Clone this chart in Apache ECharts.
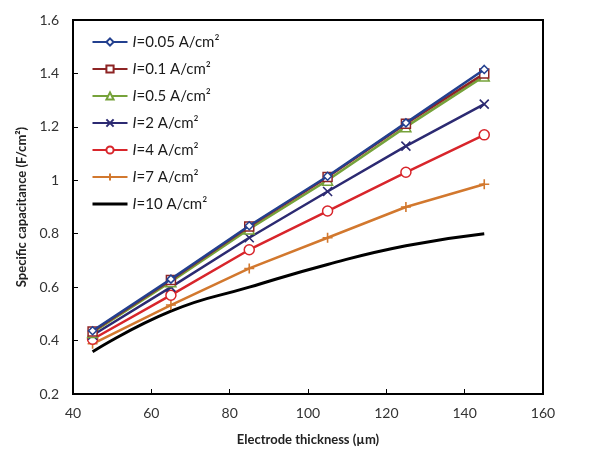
<!DOCTYPE html>
<html>
<head>
<meta charset="utf-8">
<script src="https://cdn.jsdelivr.net/npm/echarts@6/dist/echarts.min.js"></script>
<style>html,body{margin:0;padding:0;background:#fff}#c{width:595px;height:451px}</style>
</head>
<body>
<div id="c"></div>
<script>
var thickness = [45, 65, 85, 105, 125, 145];
var xTicks = [40, 60, 80, 100, 120, 140, 160];
var yTicks = [0.2, 0.4, 0.6, 0.8, 1, 1.2, 1.4, 1.6];
var currents = ['0.05', '0.1', '0.5', '2', '4', '7', '10'];
var s005 = [0.437, 0.630, 0.830, 1.015, 1.215, 1.415];
var s01  = [0.434, 0.627, 0.827, 1.012, 1.212, 1.400];
var s05  = [0.430, 0.620, 0.818, 1.000, 1.200, 1.390];
var s2   = [0.420, 0.600, 0.785, 0.958, 1.128, 1.285];
var s4   = [0.405, 0.570, 0.740, 0.885, 1.030, 1.170];
var s7   = [0.388, 0.533, 0.670, 0.785, 0.900, 0.985];
var s10  = [0.358, 0.510, 0.600, 0.685, 0.755, 0.800];

var values = [s005, s01, s05, s2, s4, s7, s10];
var colors = ['#23408f', '#8e2424', '#76a23a', '#2c2a72', '#d8252b', '#d2782e', '#000000'];
var symbols = ['diamond', 'rect', 'triangle', 'path://M0,0 L10,10 M10,0 L0,10', 'circle', 'path://M5,0 L5,10 M0,5 L10,5', 'none'];
var symbolSizes = [8, 9, 10, 9, 10, 10, 0];

function pairs(ys) { return thickness.map(function (x, i) { return [x, ys[i]]; }); }

var series = currents.map(function (c, k) {
  var isPath = symbols[k].indexOf('path://') === 0;
  return {
    name: 'I=' + c + ' A/cm²',
    type: 'line',
    data: pairs(values[k]),
    smooth: k === 6,
    symbol: symbols[k],
    symbolSize: symbolSizes[k],
    showSymbol: k !== 6,
    lineStyle: { color: colors[k], width: k === 6 ? 3 : 2.5 },
    itemStyle: {
      color: isPath ? colors[k] : '#ffffff',
      borderColor: colors[k],
      borderWidth: isPath ? 1.6 : 1.5
    },
    emphasis: { disabled: true },
    z: 10 - k
  };
});

var legendData = series.map(function (s, k) {
  var d = { name: s.name };
  if (k === 6) { d.itemStyle = { opacity: 0 }; d.lineStyle = { width: 3, color: '#000' }; }
  return d;
});

var chart = echarts.init(document.getElementById('c'), null, { renderer: 'canvas' });
chart.setOption({
  animation: false,
  backgroundColor: '#ffffff',
  textStyle: { fontFamily: 'Lato' },
  grid: { left: 73, right: 52, top: 20, bottom: 57, show: true, borderColor: '#000', borderWidth: 2 },
  legend: {
    orient: 'vertical',
    left: 86,
    top: 29,
    itemWidth: 35,
    itemHeight: 9,
    itemGap: 11,
    data: legendData,
    formatter: function (name) { return '{i|I}' + name.slice(1); },
    textStyle: {
      fontFamily: 'Lato', fontSize: 15, color: '#1a1a1a', lineHeight: 16,
      rich: { i: { fontStyle: 'italic', fontFamily: 'Lato', fontSize: 15, color: '#1a1a1a', lineHeight: 16 } }
    }
  },
  xAxis: {
    type: 'value',
    min: xTicks[0], max: xTicks[xTicks.length - 1], interval: 20,
    name: 'Electrode thickness (µm)',
    nameLocation: 'middle', nameGap: 39,
    nameTextStyle: { fontFamily: 'Lato', fontWeight: 'bold', fontSize: 13, color: '#222' },
    axisLine: { show: true, lineStyle: { color: '#000', width: 2 } },
    axisTick: { show: true, inside: true, length: 5, lineStyle: { color: '#000', width: 1 } },
    axisLabel: { margin: 12, fontSize: 14, color: '#333', fontFamily: 'Lato' },
    splitLine: { show: false }
  },
  yAxis: {
    type: 'value',
    min: yTicks[0], max: yTicks[yTicks.length - 1], interval: 0.2,
    name: 'Specific capacitance (F/cm²)',
    nameLocation: 'middle', nameGap: 44, nameRotate: 90,
    nameTextStyle: { fontFamily: 'Lato', fontWeight: 'bold', fontSize: 13, color: '#222' },
    axisLine: { show: true, lineStyle: { color: '#000', width: 2 } },
    axisTick: { show: true, inside: true, length: 5, lineStyle: { color: '#000', width: 1 } },
    axisLabel: { margin: 14, fontSize: 14, color: '#333', fontFamily: 'Lato',
      formatter: function (v) { return String(Math.round(v * 10) / 10); } },
    splitLine: { show: false }
  },
  series: series
});
</script>
</body>
</html>
